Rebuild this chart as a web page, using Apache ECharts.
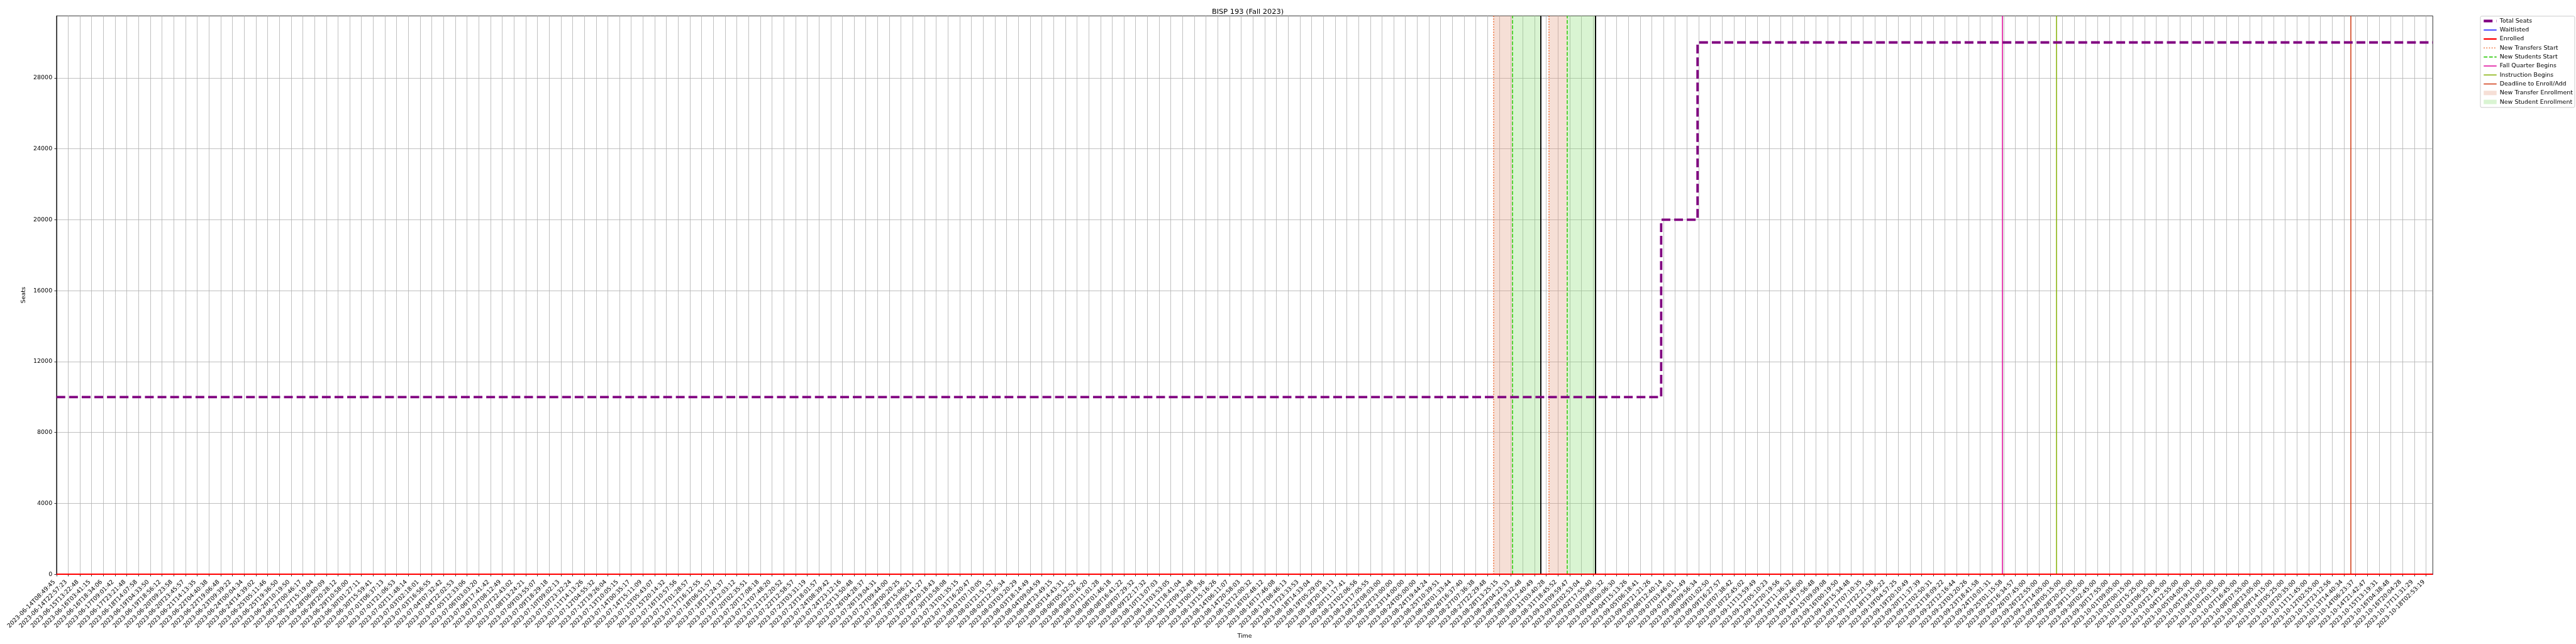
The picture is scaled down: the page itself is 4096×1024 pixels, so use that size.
<!DOCTYPE html>
<html><head><meta charset="utf-8">
<script src="https://cdn.jsdelivr.net/npm/echarts@6/dist/echarts.min.js"></script>
<style>html,body{margin:0;padding:0;background:#fff}#c{width:4096px;height:1024px}</style>
</head><body><div id="c"></div>
<script>
// ---- data ----
const tickLabels = [
"2023-06-14T08:49:45","2023-06-14T22:57:23","2023-06-15T13:22:48","2023-06-16T03:41:15","2023-06-16T18:34:06",
"2023-06-17T09:01:42","2023-06-17T23:21:48","2023-06-18T14:07:58","2023-06-19T04:33:50","2023-06-19T18:56:12",
"2023-06-20T09:23:58","2023-06-20T23:45:57","2023-06-21T14:13:35","2023-06-22T04:40:38","2023-06-22T19:06:48",
"2023-06-23T09:39:22","2023-06-24T00:04:34","2023-06-24T14:39:02","2023-06-25T05:11:46","2023-06-25T19:36:50",
"2023-06-26T10:19:50","2023-06-27T00:46:17","2023-06-27T15:19:04","2023-06-28T06:00:09","2023-06-28T20:28:12",
"2023-06-29T10:58:00","2023-06-30T01:27:11","2023-06-30T15:59:41","2023-07-01T06:37:13","2023-07-01T21:06:53",
"2023-07-02T11:48:14","2023-07-03T02:18:01","2023-07-03T16:56:55","2023-07-04T07:32:42","2023-07-04T22:02:53",
"2023-07-05T12:33:06","2023-07-06T03:03:20","2023-07-06T17:41:42","2023-07-07T08:12:49","2023-07-07T22:43:02",
"2023-07-08T13:24:21","2023-07-09T03:55:07","2023-07-09T18:29:18","2023-07-10T09:02:13","2023-07-10T23:32:24",
"2023-07-11T14:13:26","2023-07-12T04:55:32","2023-07-12T19:26:04","2023-07-13T10:05:15","2023-07-14T00:35:17",
"2023-07-14T15:11:09","2023-07-15T05:43:07","2023-07-15T20:14:32","2023-07-16T10:57:56","2023-07-17T01:28:57",
"2023-07-17T16:12:55","2023-07-18T06:51:57","2023-07-18T21:24:37","2023-07-19T12:03:12","2023-07-20T02:35:51",
"2023-07-20T17:08:18","2023-07-21T07:48:20","2023-07-21T22:20:52","2023-07-22T12:58:57","2023-07-23T03:31:19",
"2023-07-23T18:01:57","2023-07-24T08:39:42","2023-07-24T23:12:16","2023-07-25T13:50:48","2023-07-26T04:28:37",
"2023-07-26T19:04:31","2023-07-27T09:44:00","2023-07-28T00:20:25","2023-07-28T15:06:21","2023-07-29T05:41:27",
"2023-07-29T20:18:43","2023-07-30T10:58:08","2023-07-31T01:35:15","2023-07-31T16:20:47","2023-08-01T07:10:05",
"2023-08-01T21:51:57","2023-08-02T12:36:34","2023-08-03T03:20:29","2023-08-03T18:14:49","2023-08-04T09:04:59",
"2023-08-04T23:49:15","2023-08-05T14:43:31","2023-08-06T05:32:52","2023-08-06T20:16:20","2023-08-07T11:01:28",
"2023-08-08T01:46:18","2023-08-08T16:41:22","2023-08-09T07:29:32","2023-08-09T22:17:32","2023-08-10T13:07:03",
"2023-08-11T03:53:05","2023-08-11T18:41:04","2023-08-12T09:32:48","2023-08-13T00:18:36","2023-08-13T15:16:26",
"2023-08-14T06:11:07","2023-08-14T20:58:03","2023-08-15T12:00:32","2023-08-16T02:48:12","2023-08-16T17:46:08",
"2023-08-17T08:46:13","2023-08-17T23:33:53","2023-08-18T14:33:04","2023-08-19T05:29:05","2023-08-19T20:18:13",
"2023-08-20T11:17:41","2023-08-21T02:06:56","2023-08-21T17:05:55","2023-08-22T08:03:00","2023-08-22T23:00:00",
"2023-08-23T14:00:00","2023-08-24T05:00:00","2023-08-24T19:44:24","2023-08-25T10:39:51","2023-08-26T01:33:44",
"2023-08-26T16:37:40","2023-08-27T07:36:38","2023-08-27T22:29:48","2023-08-28T13:25:15","2023-08-29T04:23:33",
"2023-08-29T19:32:48","2023-08-30T12:40:49","2023-08-31T03:40:28","2023-08-31T18:45:52","2023-09-01T09:59:47",
"2023-09-02T02:53:04","2023-09-02T17:55:40","2023-09-03T09:05:32","2023-09-04T00:06:30","2023-09-04T15:13:26",
"2023-09-05T06:18:41","2023-09-05T21:21:26","2023-09-06T12:40:14","2023-09-07T03:46:01","2023-09-07T18:51:49",
"2023-09-08T09:56:34","2023-09-09T01:02:50","2023-09-09T16:27:57","2023-09-10T07:38:42","2023-09-10T22:45:02",
"2023-09-11T13:59:49","2023-09-12T05:10:23","2023-09-12T20:19:56","2023-09-13T11:36:32","2023-09-14T02:46:00",
"2023-09-14T17:56:48","2023-09-15T09:09:08","2023-09-16T00:19:50","2023-09-16T15:34:48","2023-09-17T07:10:35",
"2023-09-17T22:21:58","2023-09-18T13:36:22","2023-09-19T04:57:25","2023-09-19T20:10:49","2023-09-20T11:37:39",
"2023-09-21T02:50:31","2023-09-21T18:09:22","2023-09-22T12:16:44","2023-09-23T03:20:26","2023-09-23T18:41:58",
"2023-09-24T10:01:31","2023-09-25T01:15:58","2023-09-25T16:34:57","2023-09-26T07:45:00","2023-09-26T22:55:00",
"2023-09-27T14:05:00","2023-09-28T05:15:00","2023-09-28T20:25:00","2023-09-29T11:35:00","2023-09-30T02:45:00",
"2023-09-30T17:55:00","2023-10-01T09:05:00","2023-10-02T00:15:00","2023-10-02T15:25:00","2023-10-03T06:35:00",
"2023-10-03T21:45:00","2023-10-04T12:55:00","2023-10-05T04:05:00","2023-10-05T19:15:00","2023-10-06T10:25:00",
"2023-10-07T01:35:00","2023-10-07T16:45:00","2023-10-08T07:55:00","2023-10-08T23:05:00","2023-10-09T14:15:00",
"2023-10-10T05:25:00","2023-10-10T20:35:00","2023-10-11T11:45:00","2023-10-12T02:55:00","2023-10-12T23:12:56",
"2023-10-13T14:40:34","2023-10-14T06:23:37","2023-10-14T21:42:47","2023-10-15T13:19:31","2023-10-16T04:38:48",
"2023-10-16T20:04:28","2023-10-17T11:31:29","2023-10-18T02:53:19"
];
// positions along the x axis are in tick-index units
const xEnd = 202.58;
const seatsX = [0, 136.8, 139.9, 202.58];
const seatsY = [10000, 20000, 30000, 30000];
const flatX = [0, 202.58];
const waitlistedY = [0, 0];
const enrolledY = [0, 0];
const transfersStartX = [122.5, 127.2];
const studentsStartX = [124.1, 128.8];
const enrollmentEndX = [126.55, 131.2];
const fallBeginsX = [165.9];
const instructionBeginsX = [170.5];
const deadlineX = [195.58];
const yTickValues = [0, 4000, 8000, 12000, 16000, 20000, 24000, 28000];
const yMax = 31500;

// ---- styling ----
const S = 0.682;
const FONT = 'DejaVu Sans';
const fs = 13.9 * S;
const gridL = 131.6 * S, gridR = 5672 * S, gridT = 37 * S, gridB = 1339 * S;
const xTickValues = tickLabels.map((_, i) => i);
const zip = (xs, ys) => xs.map((x, i) => [x, ys[i]]);

const C = {
  seats: '#800080', wait: '#0000ff', enr: '#ff0000',
  tStart: '#f0682c', sStart: '#33cc11', fall: '#e0149e', instr: '#8cb416', dead: '#d2421c',
  tFill: 'rgba(225,148,118,0.3)', sFill: 'rgba(128,218,105,0.3)', black: '#000000'
};

function vline(name, xs, color, width, type, z) {
  return {
    name, type: 'line', data: [], symbol: 'none', color, z,
    lineStyle: { color, width, type },
    markLine: {
      silent: true, symbol: ['none', 'none'], label: { show: false }, animation: false,
      lineStyle: { color, width, type, opacity: 1 },
      emphasis: { disabled: true },
      data: xs.map(v => ({ xAxis: v }))
    }
  };
}
function span(name, starts, ends, color) {
  return {
    name, type: 'line', data: [], symbol: 'none', color, z: 1,
    lineStyle: { color, width: 0 },
    markArea: {
      silent: true, itemStyle: { color }, emphasis: { disabled: true },
      data: starts.map((s, i) => [{ xAxis: s }, { xAxis: ends[i] }])
    }
  };
}

const option = {
  animation: false,
  backgroundColor: '#ffffff',
  textStyle: { fontFamily: FONT },
  title: {
    text: 'BISP 193 (Fall 2023)', left: (gridL + gridR) / 2, top: 9, textAlign: 'center',
    textStyle: { fontFamily: FONT, fontSize: 16.67 * S, fontWeight: 'normal', color: '#000' }
  },
  grid: {
    left: gridL, top: gridT, width: gridR - gridL, height: gridB - gridT,
    show: true, borderColor: '#000', borderWidth: 0.8, backgroundColor: 'transparent', containLabel: false
  },
  legend: {
    orient: 'vertical', left: 5783 * S, top: 37.7 * S,
    itemWidth: 30 * S, itemHeight: 7, itemGap: 3.3,
    padding: [2.2, 3, 3.2, 3.2],
    backgroundColor: 'rgba(255,255,255,0.8)', borderColor: '#cccccc', borderWidth: 1, borderRadius: 2,
    textStyle: { fontFamily: FONT, fontSize: fs, color: '#000', lineHeight: 11 },
    itemStyle: { opacity: 0 },
    data: [
      { name: 'Total Seats', lineStyle: { width: 4.1 } },
      { name: 'Waitlisted', lineStyle: { width: 1.4 } },
      { name: 'Enrolled', lineStyle: { width: 2.3 } },
      { name: 'New Transfers Start', lineStyle: { width: 1.6 } },
      { name: 'New Students Start', lineStyle: { width: 1.6 } },
      { name: 'Fall Quarter Begins', lineStyle: { width: 1.6 } },
      { name: 'Instruction Begins', lineStyle: { width: 1.6 } },
      { name: 'Deadline to Enroll/Add', lineStyle: { width: 1.6 } },
      { name: 'New Transfer Enrollment', icon: 'rect', itemStyle: { opacity: 1, color: C.tFill } },
      { name: 'New Student Enrollment', icon: 'rect', itemStyle: { opacity: 1, color: C.sFill } }
    ]
  },
  xAxis: {
    type: 'value', min: 0, max: xEnd, interval: 1,
    name: 'Time', nameLocation: 'middle', nameGap: 91,
    nameTextStyle: { fontFamily: FONT, fontSize: fs, color: '#000' },
    axisLine: { show: true, onZero: false, lineStyle: { color: '#000', width: 0.8 } },
    axisTick: { show: true, customValues: xTickValues, length: 3.3, lineStyle: { color: '#000', width: 0.8 } },
    axisLabel: {
      show: true, customValues: xTickValues, rotate: 45, margin: 14, align: 'right', verticalAlign: 'bottom',
      fontFamily: FONT, fontSize: fs, color: '#000',
      formatter: v => { const i = Math.round(v); return tickLabels[i] !== undefined ? tickLabels[i] : ''; }
    },
    splitLine: { show: true, lineStyle: { color: '#b0b0b0', width: 0.8 } }
  },
  yAxis: {
    type: 'value', min: 0, max: yMax, interval: 4000,
    name: 'Seats', nameLocation: 'middle', nameGap: 40.5, nameRotate: 90,
    nameTextStyle: { fontFamily: FONT, fontSize: fs, color: '#000' },
    axisLine: { show: true, lineStyle: { color: '#000', width: 0.8 } },
    axisTick: { show: true, customValues: yTickValues, length: 3.3, lineStyle: { color: '#000', width: 0.8 } },
    axisLabel: {
      show: true, customValues: yTickValues, margin: 6.6, fontFamily: FONT, fontSize: fs, color: '#000',
      formatter: v => String(v)
    },
    splitLine: { show: true, lineStyle: { color: '#b0b0b0', width: 0.8 } }
  },
  series: [
    span('New Transfer Enrollment', transfersStartX, studentsStartX, C.tFill),
    span('New Student Enrollment', studentsStartX, enrollmentEndX, C.sFill),
    vline('New Transfers Start', transfersStartX, C.tStart, 1.6, [1.6, 2.6], 3),
    vline('New Students Start', studentsStartX, C.sStart, 1.6, [5.9, 2.6], 3),
    vline('Enrollment End', enrollmentEndX, C.black, 1.9, 'solid', 3),
    vline('Fall Quarter Begins', fallBeginsX, C.fall, 1.6, 'solid', 3),
    vline('Instruction Begins', instructionBeginsX, C.instr, 1.6, 'solid', 3),
    vline('Deadline to Enroll/Add', deadlineX, C.dead, 1.6, 'solid', 3),
    {
      name: 'Waitlisted', type: 'line', data: zip(flatX, waitlistedY), symbol: 'none', color: C.wait, z: 4,
      lineStyle: { color: C.wait, width: 1.4 }
    },
    {
      name: 'Enrolled', type: 'line', data: zip(flatX, enrolledY), symbol: 'none', color: C.enr, z: 5,
      lineStyle: { color: C.enr, width: 2.3 }
    },
    {
      name: 'Total Seats', type: 'line', step: 'end', data: zip(seatsX, seatsY), symbol: 'none', color: C.seats, z: 6,
      lineStyle: { color: C.seats, width: 3.8, type: [14, 6.1], cap: 'butt' }
    }
  ]
};

const chart = echarts.init(document.getElementById('c'), null, { renderer: 'canvas' });
chart.setOption(option);
</script>
</body></html>
